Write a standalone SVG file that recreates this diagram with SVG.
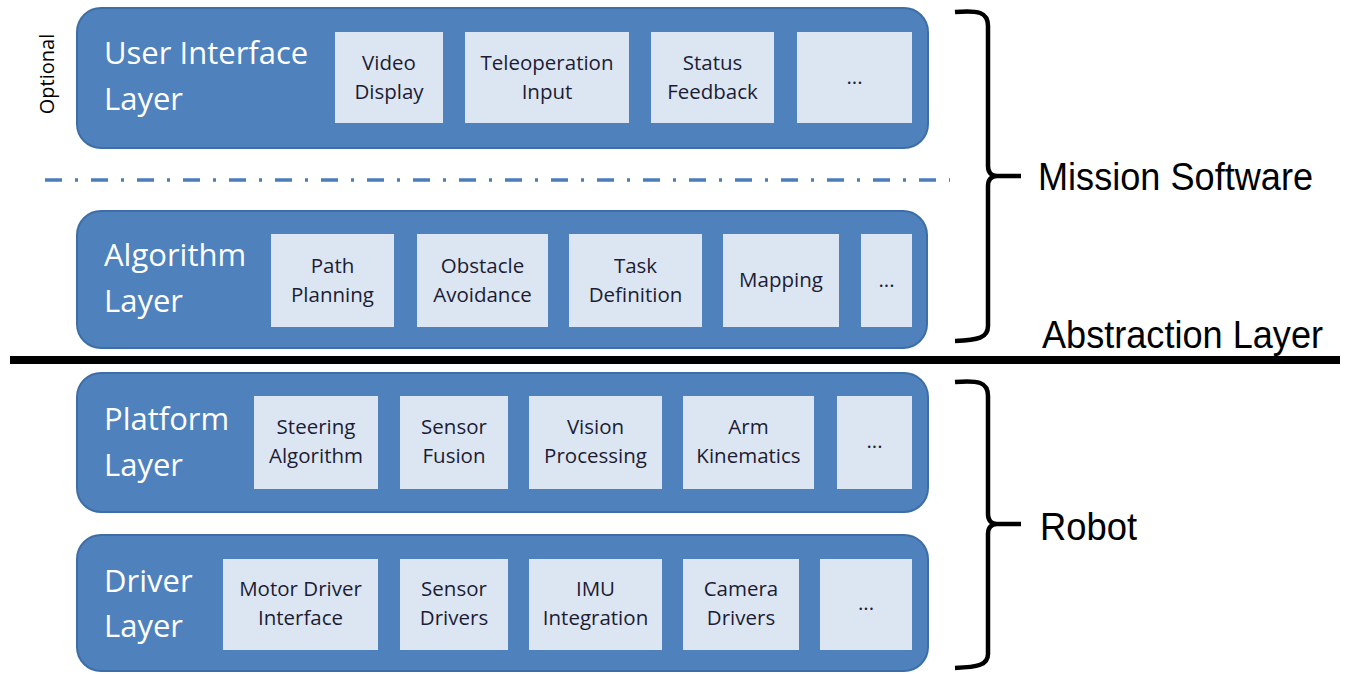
<svg xmlns="http://www.w3.org/2000/svg" width="1350" height="674" viewBox="0 0 1350 674">
<style>
.layer{fill:#4f81bd;stroke:#3d6ea8;stroke-width:2}
.box{fill:#dce6f2;stroke:none}
.title{font-family:"Open Sans",Lato,sans-serif;font-size:31px;fill:#ffffff}
.bt{font-family:"Open Sans",Lato,sans-serif;font-size:20.5px;fill:#1c1c34;text-anchor:middle}
.big{font-family:"Liberation Sans",Arial,sans-serif;font-size:38px;fill:#000}
.brace{fill:none;stroke:#000;stroke-width:4.5;stroke-linejoin:round;stroke-linecap:butt}
</style>
<rect width="1350" height="674" fill="#ffffff"/>

<g id="ui-layer">
<rect class="layer" x="77" y="8" width="851" height="140" rx="24"/>
<text class="title" x="104" y="64">User Interface</text>
<text class="title" x="104" y="110">Layer</text>
<rect class="box" x="335" y="32" width="108" height="91"/>
<text class="bt" x="389" y="70">Video</text><text class="bt" x="389" y="99">Display</text>
<rect class="box" x="465" y="32" width="164" height="91"/>
<text class="bt" x="547" y="70">Teleoperation</text><text class="bt" x="547" y="99">Input</text>
<rect class="box" x="651" y="32" width="123" height="91"/>
<text class="bt" x="712.5" y="70">Status</text><text class="bt" x="712.5" y="99">Feedback</text>
<rect class="box" x="797" y="32" width="115" height="91"/>
<text class="bt" x="854.5" y="84">...</text>
</g>

<g id="optional">
<text x="54" y="74" transform="rotate(-90 54 74)" font-family="'Open Sans',Lato,sans-serif" font-size="20" fill="#000" text-anchor="middle">Optional</text>
</g>

<g id="algorithm-layer">
<rect class="layer" x="77" y="211" width="850" height="137" rx="24"/>
<text class="title" x="104" y="266">Algorithm</text>
<text class="title" x="104" y="312">Layer</text>
<rect class="box" x="271" y="234" width="123" height="93"/>
<text class="bt" x="332.5" y="273">Path</text><text class="bt" x="332.5" y="302">Planning</text>
<rect class="box" x="417" y="234" width="131" height="93"/>
<text class="bt" x="482.5" y="273">Obstacle</text><text class="bt" x="482.5" y="302">Avoidance</text>
<rect class="box" x="569" y="234" width="133" height="93"/>
<text class="bt" x="635.5" y="273">Task</text><text class="bt" x="635.5" y="302">Definition</text>
<rect class="box" x="723" y="234" width="116" height="93"/>
<text class="bt" x="781" y="287">Mapping</text>
<rect class="box" x="861" y="234" width="51" height="93"/>
<text class="bt" x="886.5" y="287">...</text>
</g>

<g id="platform-layer">
<rect class="layer" x="77" y="373" width="851" height="139" rx="24"/>
<text class="title" x="104" y="430">Platform</text>
<text class="title" x="104" y="476">Layer</text>
<rect class="box" x="254" y="396" width="124" height="93"/>
<text class="bt" x="316" y="434">Steering</text><text class="bt" x="316" y="463">Algorithm</text>
<rect class="box" x="400" y="396" width="108" height="93"/>
<text class="bt" x="454" y="434">Sensor</text><text class="bt" x="454" y="463">Fusion</text>
<rect class="box" x="529" y="396" width="133" height="93"/>
<text class="bt" x="595.5" y="434">Vision</text><text class="bt" x="595.5" y="463">Processing</text>
<rect class="box" x="683" y="396" width="131" height="93"/>
<text class="bt" x="748.5" y="434">Arm</text><text class="bt" x="748.5" y="463">Kinematics</text>
<rect class="box" x="837" y="396" width="75" height="93"/>
<text class="bt" x="874.5" y="448">...</text>
</g>

<g id="driver-layer">
<rect class="layer" x="77" y="535" width="851" height="136" rx="24"/>
<text class="title" x="104" y="592">Driver</text>
<text class="title" x="104" y="637">Layer</text>
<rect class="box" x="223" y="559" width="155" height="91"/>
<text class="bt" x="300.5" y="596">Motor Driver</text><text class="bt" x="300.5" y="625">Interface</text>
<rect class="box" x="400" y="559" width="108" height="91"/>
<text class="bt" x="454" y="596">Sensor</text><text class="bt" x="454" y="625">Drivers</text>
<rect class="box" x="529" y="559" width="133" height="91"/>
<text class="bt" x="595.5" y="596">IMU</text><text class="bt" x="595.5" y="625">Integration</text>
<rect class="box" x="683" y="559" width="116" height="91"/>
<text class="bt" x="741" y="596">Camera</text><text class="bt" x="741" y="625">Drivers</text>
<rect class="box" x="820" y="559" width="92" height="91"/>
<text class="bt" x="866" y="610">...</text>
</g>

<g id="connectors">
<line x1="45" y1="180" x2="950" y2="180" stroke="#4a7ebb" stroke-width="3.5" stroke-dasharray="17 13 3 13"/>
<line x1="10" y1="360" x2="1340" y2="360" stroke="#000" stroke-width="8"/>
<path class="brace" d="M955 12 C978 10 988 12 988 26 V166 C988 172 991 176 997 176 H1021 M997 176 C991 176 988 180 988 186 V326 C988 338 978 340 955 341"/>
<path class="brace" d="M955 382 C978 380 988 382 988 396 V514 C988 520 991 524 997 524 H1021 M997 524 C991 524 988 528 988 534 V654 C988 665 978 667 955 668"/>
</g>

<g id="labels">
<text class="big" x="1038" y="190" textLength="275" lengthAdjust="spacingAndGlyphs">Mission Software</text>
<text class="big" x="1042" y="348" font-size="37" textLength="281" lengthAdjust="spacingAndGlyphs">Abstraction Layer</text>
<text class="big" x="1040" y="540" textLength="97" lengthAdjust="spacingAndGlyphs">Robot</text>
</g>
</svg>
